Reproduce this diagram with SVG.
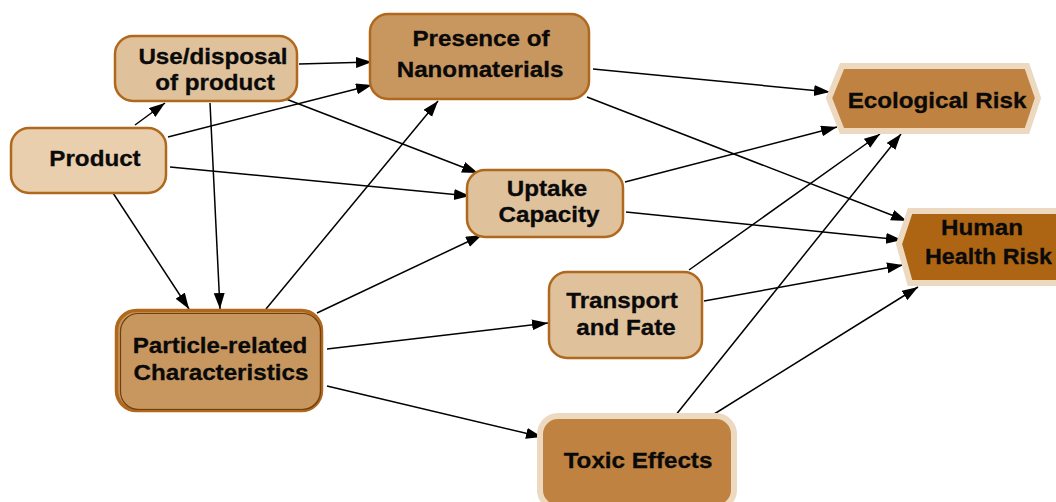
<svg xmlns="http://www.w3.org/2000/svg" width="1056" height="502" viewBox="0 0 1056 502">
<defs>
<marker id="ah" markerUnits="userSpaceOnUse" markerWidth="18" markerHeight="12" refX="16" refY="5.5" orient="auto">
<path d="M0,0 L16,5.5 L0,11 Z" fill="#000"/>
</marker>
<style>
.t{font-family:"Liberation Sans",Arial,sans-serif;font-weight:bold;font-size:22px;fill:#0a0a0a;stroke:#0a0a0a;stroke-width:0.3;text-anchor:middle}
.ts{text-anchor:start}
.n1{fill:#e9cfad;stroke:#b0681c;stroke-width:2.5}
.n2{fill:#dfc19c;stroke:#b0681c;stroke-width:2.5}
.n3{fill:#c8975f;stroke:#b0681c;stroke-width:2.5}
.n4{fill:#bf8240;stroke:#ecd9c0;stroke-width:6}
.n5{fill:#ad6513;stroke:#ecd9c0;stroke-width:6}
.c line{stroke:#000;stroke-width:1.5;marker-end:url(#ah)}
</style>
</defs>
<rect width="1056" height="502" fill="#fff"/>
<g class="c" id="connectors">
<line x1="135" y1="125" x2="165" y2="103"/>
<line x1="168" y1="137" x2="372" y2="85"/>
<line x1="299" y1="64" x2="372" y2="62"/>
<line x1="286" y1="99" x2="478" y2="173"/>
<line x1="170" y1="167" x2="470" y2="196"/>
<line x1="113" y1="193" x2="189" y2="309"/>
<line x1="210" y1="103" x2="220" y2="309"/>
<line x1="266" y1="309" x2="438" y2="101"/>
<line x1="317" y1="313" x2="482" y2="235"/>
<line x1="327" y1="349" x2="548" y2="323"/>
<line x1="327" y1="386" x2="542" y2="437"/>
<line x1="593" y1="69" x2="830" y2="92"/>
<line x1="587" y1="97" x2="907" y2="221"/>
<line x1="625" y1="182" x2="837" y2="127"/>
<line x1="626" y1="212" x2="902" y2="240"/>
<line x1="689" y1="270" x2="880" y2="134"/>
<line x1="704" y1="301" x2="903" y2="265"/>
<line x1="675" y1="416" x2="901" y2="134"/>
<line x1="711" y1="416" x2="918" y2="287"/>
</g>
<g id="product">
<rect class="n1" x="11" y="128" width="155" height="65" rx="18"/>
<text class="t" transform="translate(95,166) scale(1.1,1)">Product</text>
</g>
<g id="use">
<rect class="n2" x="115" y="36" width="182" height="65" rx="18"/>
<text class="t" transform="translate(213,64) scale(1.1,1)">Use/disposal</text>
<text class="t" transform="translate(215,90) scale(1.1,1)">of product</text>
</g>
<g id="presence">
<rect class="n3" x="370" y="14" width="219" height="85" rx="18"/>
<text class="t" transform="translate(481,46) scale(1.1,1)">Presence of</text>
<text class="t" transform="translate(480,77) scale(1.1,1)">Nanomaterials</text>
</g>
<g id="particle">
<rect x="116.5" y="310.5" width="205" height="100" rx="20" fill="#c8975f" stroke="#b0681c" stroke-width="3.5"/>
<rect x="120.5" y="313.5" width="200" height="96" rx="18" fill="none" stroke="#6e3f10" stroke-width="1.2"/>
<text class="t" transform="translate(220,353) scale(1.1,1)">Particle-related</text>
<text class="t" transform="translate(221,380) scale(1.1,1)">Characteristics</text>
</g>
<g id="uptake">
<rect class="n2" x="467" y="170" width="156" height="67" rx="18"/>
<text class="t" transform="translate(547,196) scale(1.1,1)">Uptake</text>
<text class="t" transform="translate(549,222) scale(1.1,1)">Capacity</text>
</g>
<g id="transport">
<rect class="n2" x="549" y="272" width="153" height="86" rx="18"/>
<text class="t" transform="translate(622,308) scale(1.1,1)">Transport</text>
<text class="t" transform="translate(626,335) scale(1.1,1)">and Fate</text>
</g>
<g id="toxic">
<rect class="n4" x="540" y="416" width="194" height="92" rx="18"/>
<text class="t" transform="translate(638,468) scale(1.1,1)">Toxic Effects</text>
</g>
<g id="ecological">
<polygon class="n4" points="829,98 842,66 1027,66 1038,98 1027,131 842,131"/>
<text class="t" transform="translate(937,108) scale(1.1,1)">Ecological Risk</text>
</g>
<g id="human">
<polygon class="n5" points="899,244 910,211 1075,211 1075,283 910,283"/>
<text class="t" transform="translate(982,235) scale(1.1,1)">Human</text>
<text class="t ts" transform="translate(925,264) scale(1.06,1)">Health Risk</text>
</g>
</svg>
